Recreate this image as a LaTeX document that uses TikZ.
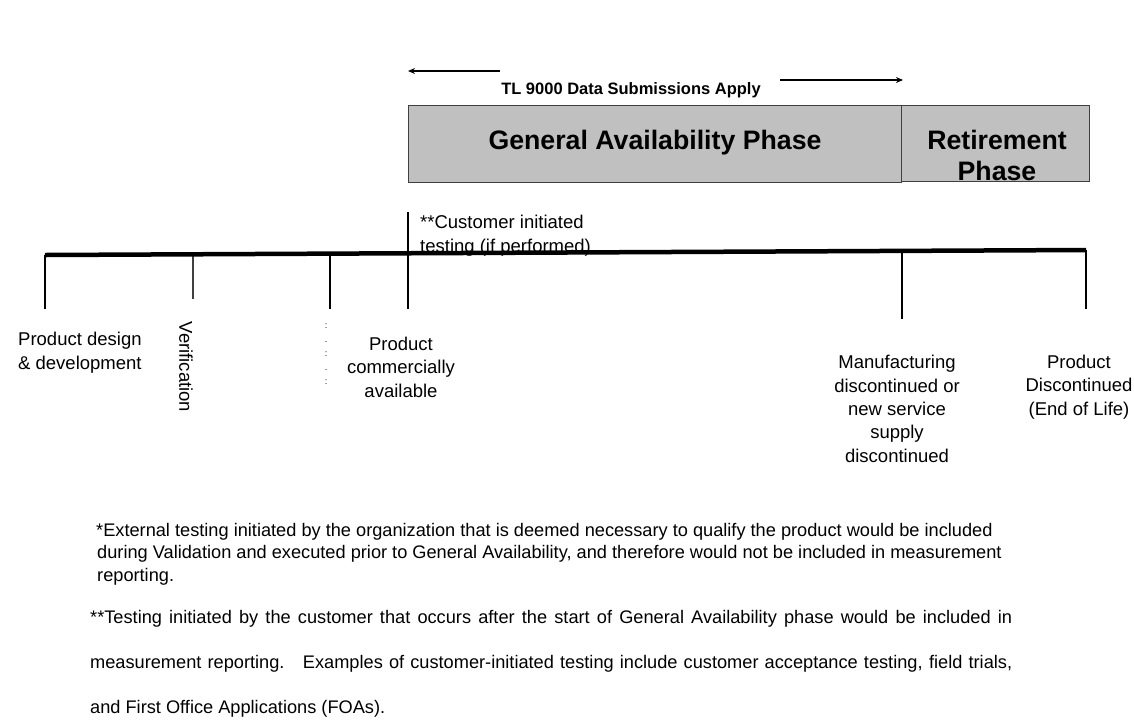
\documentclass[tikz,border=0pt]{standalone}
\usepackage{fontspec}
\setmainfont{Liberation Sans}
\usetikzlibrary{arrows.meta}
\definecolor{phasegray}{HTML}{C0C0C0}
\definecolor{edgegray}{HTML}{404040}
\newcommand{\jline}[1]{\makebox[922pt][s]{#1}}
\begin{document}
\begin{tikzpicture}[x=1pt,y=-1pt,
  lbl/.style={font=\fontsize{18.5}{23.3}\selectfont, inner sep=0pt, align=center, anchor=base},
  note/.style={font=\fontsize{18.2}{22.5}\selectfont, inner sep=0pt, anchor=base west},
  phasebox/.style={draw=edgegray, line width=0.8pt, fill=phasegray, inner sep=0pt, anchor=north west},
  phasetext/.style={font=\bfseries\fontsize{26.7}{31}\selectfont, inner sep=0pt, align=center, anchor=base},
  tickline/.style={line width=1.1pt, black},
  spanarrow/.style={line width=1.8pt, -{Stealth[length=7pt,width=6pt]}},
  timeline/.style={line width=4.5pt}]
\useasboundingbox (0,0) rectangle (1134,724);

% --- data submission span ---
\node[font=\bfseries\fontsize{16.5}{20}\selectfont, inner sep=0pt, anchor=base] (tl) at (631,94) {TL 9000 Data Submissions Apply};
\coordinate (la0) at (500,71);
\coordinate (la1) at (408,71);
\coordinate (ra0) at (780,80);
\coordinate (ra1) at (903,80);
\draw[spanarrow] (la0) -- (la1);
\draw[spanarrow] (ra0) -- (ra1);

% --- phase boxes ---
\node[phasebox, minimum width=493pt, minimum height=77pt] (ga) at (408,105) {};
\node[phasebox, minimum width=188pt, minimum height=76pt] (ret) at (901,105) {};
\node[phasetext] (gatext) at (655,149) {General Availability Phase};
\node[phasetext] (rettext) at (997,180) {Retirement\\Phase};

% --- customer testing note (drawn before the timeline, which crosses it) ---
\node[lbl, align=left, anchor=base west] (cust) at (420,252) {**Customer initiated\\testing (if performed)};

% --- ticks along the timeline ---
\coordinate (p1) at (45,255);   \coordinate (q1) at (45,309);
\coordinate (p2) at (193,253.3);\coordinate (q2) at (193,299);
\coordinate (p3) at (330,252.6);\coordinate (q3) at (330,309);
\coordinate (p4) at (408,212);  \coordinate (q4) at (408,309);
\coordinate (p5) at (902,251);  \coordinate (q5) at (902,319);
\coordinate (p6) at (1086,250); \coordinate (q6) at (1086,309);
\draw[tickline] (p1) -- (q1);
\draw[tickline, edgegray, line width=2pt] (p2) -- (q2);
\draw[tickline] (p3) -- (q3);
\draw[tickline] (p4) -- (q4);
\draw[tickline] (p5) -- (q5);
\draw[tickline] (p6) -- (q6);

% --- main timeline ---
\draw[timeline] (p1) -- (p6);

% --- milestone labels ---
\node[lbl, align=left, anchor=base west] (design) at (18,369) {Product design\\\& development};
\node[font=\fontsize{18.5}{23.5}\selectfont, inner sep=0pt, rotate=-90] (verif) at (186,367) {Verification};
\node[font=\fontsize{9}{14}\selectfont, inner sep=0pt, align=center] (vdots) at (326,354) {:\\.\\:\\.\\:};
\node[lbl] (avail) at (401,397) {Product\\commercially\\available};
\node[lbl] (manuf) at (897,462) {Manufacturing\\discontinued or\\new service\\supply\\discontinued};
\node[lbl] (eol) at (1079,415) {Product\\Discontinued\\(End of Life)};

% --- footnotes ---
\node[note] (n1a) at (96,536) {*External testing initiated by the organization that is deemed necessary to qualify the product would be included};
\node[note] (n1b) at (97,558.5) {during Validation and executed prior to General Availability, and therefore would not be included in measurement};
\node[note] (n1c) at (97,581) {reporting.};
\node[note] (n2a) at (90,623) {\jline{**Testing initiated by the customer that occurs after the start of General Availability phase would be included in}};
\node[note] (n2b) at (90,668) {\jline{measurement reporting.\ \ \ Examples of customer-initiated testing include customer acceptance testing, field trials,}};
\node[note] (n2c) at (90,713) {and First Office Applications (FOAs).};
\end{tikzpicture}
\end{document}
